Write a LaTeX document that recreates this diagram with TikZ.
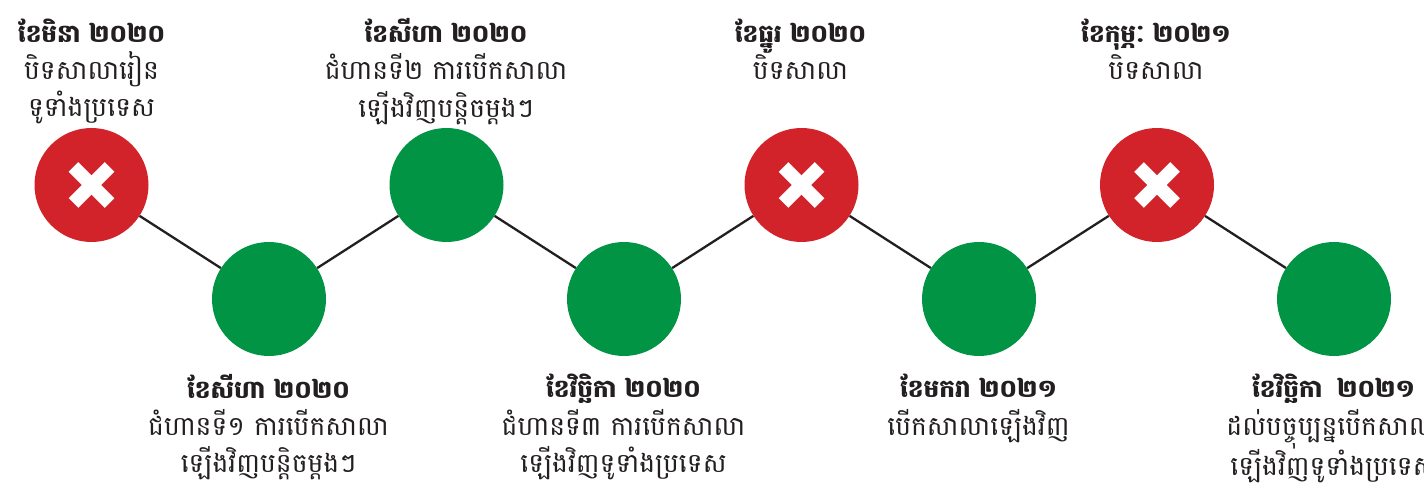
\documentclass[tikz,border=0pt]{standalone}
\usepackage{fontspec}
\newfontfamily\kh[Script=Khmer]{Battambang}
\definecolor{xred}{HTML}{D2232A}
\definecolor{xgreen}{HTML}{009444}
\definecolor{ink}{HTML}{231F20}
\newcommand{\ttl}[1]{{\fontsize{24.7}{37.3}\selectfont\bfseries #1}}
\tikzset{
  x=1pt,y=-1pt,
  dot/.style={circle,minimum size=114pt,inner sep=0pt,fill=#1},
  link/.style={draw=ink,line width=2.3pt},
  arm/.style={draw=white,line width=13.5pt},
  lab/.style={text=ink,align=center,inner sep=0pt,anchor=north,
    font=\kh\fontsize{26.6}{37.3}\selectfont}
}
\begin{document}
\begin{tikzpicture}
\useasboundingbox (0,0) rectangle (1424,486);
\node[dot=xred] (a) at (91.5,185) {};
\node[dot=xgreen] (b) at (269,299) {};
\node[dot=xgreen] (c) at (446.5,185) {};
\node[dot=xgreen] (d) at (624,299) {};
\node[dot=xred] (e) at (801.5,185) {};
\node[dot=xgreen] (f) at (979,299) {};
\node[dot=xred] (g) at (1157,185) {};
\node[dot=xgreen] (h) at (1334,299) {};
\foreach \u/\v in {a/b,b/c,c/d,d/e,e/f,f/g,g/h}
  \draw[link] (\u) -- (\v);
\foreach \u in {a,e,g}{
  \draw[arm] ([shift={(-18,-18)}]\u.center) -- ([shift={(18,18)}]\u.center);
  \draw[arm] ([shift={(-18,18)}]\u.center) -- ([shift={(18,-18)}]\u.center);
}
\node[lab] (ta) at (91.5,18.3) {\ttl{ខែមិនា ២០២០}\\បិទសាលារៀន\\ទូទាំងប្រទេស};
\node[lab] (tc) at (446,18.3) {\ttl{ខែសីហា ២០២០}\\ជំហានទី២ ការបើកសាលា\\ឡើងវិញបន្តិចម្តងៗ};
\node[lab] (te) at (800.5,18.3) {\ttl{ខែធ្នូរ ២០២០}\\បិទសាលា};
\node[lab] (tg) at (1156,18.3) {\ttl{ខែកុម្ភៈ ២០២១}\\បិទសាលា};
\node[lab] (tb) at (268.5,374) {\ttl{ខែសីហា ២០២០}\\ជំហានទី១ ការបើកសាលា\\ឡើងវិញបន្តិចម្តងៗ};
\node[lab] (td) at (623.5,374) {\ttl{ខែវិច្ឆិកា ២០២០}\\ជំហានទី៣ ការបើកសាលា\\ឡើងវិញទូទាំងប្រទេស};
\node[lab] (tf) at (978.5,374) {\ttl{ខែមករា ២០២១}\\បើកសាលាឡើងវិញ};
\node[lab] (th) at (1333.5,374) {\ttl{ខែវិច្ឆិកា\hspace{6pt} ២០២១}\\ដល់បច្ចុប្បន្នបើកសាលា\\ឡើងវិញទូទាំងប្រទេស};
\end{tikzpicture}
\end{document}
